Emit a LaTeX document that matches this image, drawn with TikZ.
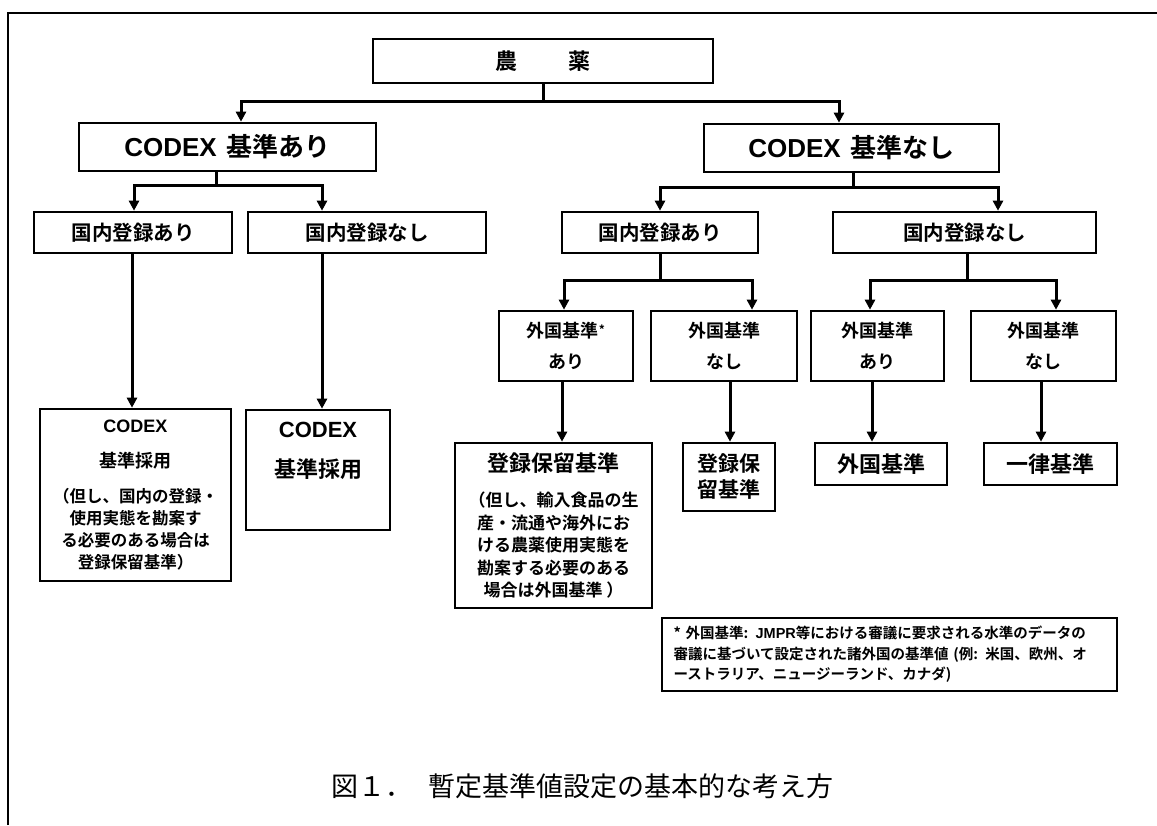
\documentclass[tikz,border=0pt]{standalone}
\usepackage{fontspec}
\setmainfont{Noto Sans CJK JP}[BoldFont={* Bold}]
\newfontfamily\lat{Liberation Sans}
\usetikzlibrary{arrows.meta}
\newcommand{\fs}[2]{\fontsize{#1}{#2}\selectfont}
\begin{document}
\begin{tikzpicture}[x=1pt,y=-1pt,
  box/.style={draw, line width=2.6pt, rectangle, inner sep=0pt, align=center, font=\bfseries},
  ln/.style={line width=3pt},
  arr/.style={line width=3pt, -{Triangle[width=10pt,length=10pt]}},
  frame/.style={line width=1.6pt}]
\useasboundingbox (0,0) rectangle (1157,825);
% outer frame
\coordinate (fbl) at (8,825);
\coordinate (ftl) at (8,13);
\coordinate (ftr) at (1157,13);
\draw[frame] (fbl) -- (ftl) -- (ftr);

% level 0/1
\node[box, minimum width=340, minimum height=44, font=\bfseries\fs{22}{26}] (nouyaku) at (543,61) {農\hspace{51pt}薬};
\node[box, minimum width=297, minimum height=48, font=\bfseries\fs{26}{30}] (codexA) at (227.5,147) {{\lat CODEX}\hspace{10pt}基準あり};
\node[box, minimum width=295, minimum height=48, font=\bfseries\fs{26}{30}] (codexN) at (851.5,148) {{\lat CODEX}\hspace{10pt}基準なし};

% level 2
\node[box, minimum width=198, minimum height=41, font=\bfseries\fs{20.5}{24}] (kaL) at (133,232.5) {国内登録あり};
\node[box, minimum width=238, minimum height=41, font=\bfseries\fs{20.5}{24}] (knL) at (367,232.5) {国内登録なし};
\node[box, minimum width=196, minimum height=41, font=\bfseries\fs{20.5}{24}] (kaR) at (660,232.5) {国内登録あり};
\node[box, minimum width=263, minimum height=41, font=\bfseries\fs{20.5}{24}] (knR) at (964.5,232.5) {国内登録なし};

% level 3
\node[box, minimum width=134, minimum height=70, font=\bfseries\fs{18}{31}] (gaA) at (566,346) {外国基準{\fs{12}{12}\raisebox{3pt}{*}}\\あり};
\node[box, minimum width=146, minimum height=70, font=\bfseries\fs{18}{31}] (gnA) at (724,346) {外国基準\\なし};
\node[box, minimum width=133, minimum height=70, font=\bfseries\fs{18}{31}] (gaB) at (877.5,346) {外国基準\\あり};
\node[box, minimum width=145, minimum height=70, font=\bfseries\fs{18}{31}] (gnB) at (1043.5,346) {外国基準\\なし};

% results
\node[box, minimum width=191, minimum height=172, font=\bfseries\fs{16.5}{22.3}] (resL) at (135.5,495)
  {{\lat\fs{18}{22.3}CODEX}\\[12.7pt]{\fs{18}{22.3}基準採用}\\[12.7pt]（但し、国内の登録・\\使用実態を勘案す\\る必要のある場合は\\登録保留基準）};
\node[box, minimum width=144, minimum height=120, font=\bfseries\fs{22}{40}] (resM) at (318,470)
  {{\lat CODEX}\\基準採用\\\mbox{}};
\node[box, minimum width=197, minimum height=165, font=\bfseries\fs{17}{22.5}] (resHold) at (553.5,525.5)
  {{\fs{22}{22.5}登録保留基準}\\[12.5pt]（但し、輸入食品の生\\産・流通や海外にお\\ける農薬使用実態を\\勘案する必要のある\\場合は外国基準 ）};
\node[box, minimum width=92, minimum height=68, font=\bfseries\fs{21}{26}] (resHold2) at (729,477) {登録保\\留基準};
\node[box, minimum width=132, minimum height=42, font=\bfseries\fs{22}{26}] (resForeign) at (881,464) {外国基準};
\node[box, minimum width=133, minimum height=42, font=\bfseries\fs{22}{26}] (resUniform) at (1050.5,464) {一律基準};

% footnote
\node[box, line width=2pt, minimum width=455, minimum height=73, text width=432pt, inner xsep=11.5pt, align=left, font=\bfseries\fs{14.5}{20.5}] (note) at (889.5,654.5)
  {* 外国基準: {\lat JMPR}等における審議に要求される水準のデータの\\審議に基づいて設定された諸外国の基準値 (例: 米国、欧州、オ\\ーストラリア、ニュージーランド、カナダ)};

% caption
\node[anchor=west, inner sep=0pt, font=\fs{27}{30}] (caption) at (331,786) {図１．\hspace{16pt}暫定基準値設定の基本的な考え方};

% junctions and guides
\coordinate (jN) at (543,101);
\coordinate (jA) at (216,185);
\coordinate (jC) at (853,187);
\coordinate (jR1) at (660,280);
\coordinate (jR2) at (967,280);
\coordinate (xa1) at (241,0);
\coordinate (xa2) at (839,0);
\coordinate (xb1) at (134,0);
\coordinate (xb2) at (322,0);
\coordinate (xc1) at (660,0);
\coordinate (xc2) at (998,0);
\coordinate (xf1) at (564,0);
\coordinate (xf2) at (752,0);
\coordinate (xg1) at (870,0);
\coordinate (xg2) at (1056,0);
\coordinate (xd) at (132,0);
\coordinate (xe) at (322,0);
\coordinate (xh) at (562,0);
\coordinate (xi) at (730,0);
\coordinate (xj) at (872,0);
\coordinate (xk) at (1041,0);

% connectors
\draw[ln] (nouyaku.south) -- (jN);
\draw[arr] (jN) -| (codexA.north -| xa1);
\draw[arr] (jN) -| (codexN.north -| xa2);

\draw[ln] (codexA.south -| jA) -- (jA);
\draw[arr] (jA) -| (kaL.north -| xb1);
\draw[arr] (jA) -| (knL.north -| xb2);

\draw[ln] (codexN.south -| jC) -- (jC);
\draw[arr] (jC) -| (kaR.north -| xc1);
\draw[arr] (jC) -| (knR.north -| xc2);

\draw[ln] (kaR.south -| jR1) -- (jR1);
\draw[arr] (jR1) -| (gaA.north -| xf1);
\draw[arr] (jR1) -| (gnA.north -| xf2);

\draw[ln] (knR.south -| jR2) -- (jR2);
\draw[arr] (jR2) -| (gaB.north -| xg1);
\draw[arr] (jR2) -| (gnB.north -| xg2);

\draw[arr] (kaL.south -| xd) -- (resL.north -| xd);
\draw[arr] (knL.south -| xe) -- (resM.north -| xe);
\draw[arr] (gaA.south -| xh) -- (resHold.north -| xh);
\draw[arr] (gnA.south -| xi) -- (resHold2.north -| xi);
\draw[arr] (gaB.south -| xj) -- (resForeign.north -| xj);
\draw[arr] (gnB.south -| xk) -- (resUniform.north -| xk);
\end{tikzpicture}
\end{document}
